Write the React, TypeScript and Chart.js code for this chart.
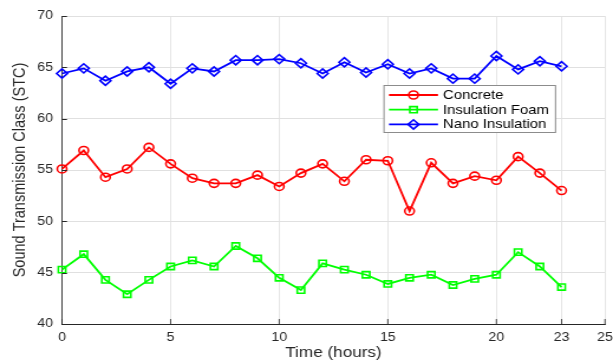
import React, { useEffect, useRef } from 'react';
import { Chart, registerables } from 'chart.js';
import { drawPoint } from 'chart.js/helpers';

Chart.register(...registerables);

const hours = [0, 1, 2, 3, 4, 5, 6, 7, 8, 9, 10, 11, 12, 13, 14, 15, 16, 17, 18, 19, 20, 21, 22, 23];
const concrete = [55.1, 56.9, 54.3, 55.1, 57.2, 55.6, 54.2, 53.7, 53.7, 54.5, 53.4, 54.7, 55.6, 53.9, 56.0, 55.9, 51.0, 55.7, 53.7, 54.4, 54.0, 56.3, 54.7, 53.0];
const insulationFoam = [45.3, 46.8, 44.3, 42.9, 44.3, 45.6, 46.2, 45.6, 47.6, 46.4, 44.5, 43.3, 45.9, 45.3, 44.8, 43.9, 44.5, 44.8, 43.8, 44.4, 44.8, 47.0, 45.6, 43.6];
const nanoInsulation = [64.4, 64.9, 63.7, 64.6, 65.0, 63.4, 64.9, 64.6, 65.7, 65.7, 65.8, 65.4, 64.4, 65.5, 64.5, 65.3, 64.4, 64.9, 63.9, 63.9, 66.1, 64.8, 65.6, 65.1];
const seriesLabels = ['Concrete', 'Insulation Foam', 'Nano Insulation'];
const xTickValues = [0, 5, 10, 15, 20, 23, 25];
const yMin = 40;
const yMax = 70;
const yStep = 5;

// The reference figure is stretched horizontally; render narrower and stretch via CSS.
const OUT_W = 613;
const OUT_H = 362;
const SX = 1.18;
const IN_W = Math.round(OUT_W / SX);
const sx = (px: number) => px * IN_W / OUT_W;

const FONT = "'Liberation Sans', Arial, Helvetica, sans-serif";
const AXIS_COLOR = '#262626';
const GRID_COLOR = '#e0e0e0';

const inwardTicks = {
  id: 'inwardTicks',
  afterDraw(chart: any) {
    const { ctx, chartArea, scales } = chart;
    ctx.save();
    ctx.strokeStyle = AXIS_COLOR;
    ctx.lineWidth = 1 / SX;
    ctx.beginPath();
    scales.x.ticks.forEach((t: any) => {
      const px = scales.x.getPixelForValue(t.value);
      ctx.moveTo(px, chartArea.bottom);
      ctx.lineTo(px, chartArea.bottom - 5);
    });
    ctx.stroke();
    ctx.lineWidth = 1;
    ctx.beginPath();
    scales.y.ticks.forEach((t: any) => {
      const py = Math.round(scales.y.getPixelForValue(t.value)) + 0.5;
      ctx.moveTo(chartArea.left, py);
      ctx.lineTo(chartArea.left + 5 / SX, py);
    });
    ctx.stroke();
    ctx.restore();
  },
};

const boxLegend = {
  id: 'boxLegend',
  afterDraw(chart: any, _args: any, opts: any) {
    const { ctx } = chart;
    const x0 = opts.x, y0 = opts.y, w = opts.width, h = opts.height;
    ctx.save();
    ctx.fillStyle = '#ffffff';
    ctx.fillRect(x0, y0, w, h);
    ctx.strokeStyle = '#8c8c8c';
    ctx.lineWidth = 1;
    ctx.strokeRect(x0, y0 + 0.5, w, h);
    chart.data.datasets.forEach((ds: any, i: number) => {
      const cy = y0 + opts.firstRow + i * opts.rowGap;
      const lx0 = opts.lineStart;
      const lx1 = opts.lineEnd;
      ctx.strokeStyle = ds.borderColor;
      ctx.lineWidth = ds.borderWidth;
      ctx.beginPath();
      ctx.moveTo(lx0, cy);
      ctx.lineTo(lx1, cy);
      ctx.stroke();
      ctx.fillStyle = 'rgba(0,0,0,0)';
      ctx.lineWidth = ds.pointBorderWidth;
      drawPoint(ctx, { pointStyle: ds.pointStyle, radius: ds.pointRadius, borderWidth: ds.pointBorderWidth, rotation: 0 } as any, (lx0 + lx1) / 2, cy);
      ctx.fillStyle = '#000000';
      ctx.font = `12.6px ${FONT}`;
      ctx.textBaseline = 'middle';
      ctx.textAlign = 'left';
      ctx.fillText(ds.label, opts.textStart, cy + 0.5);
    });
    ctx.restore();
  },
};

export default function App() {
  const canvasRef = useRef<HTMLCanvasElement | null>(null);

  useEffect(() => {
    if (!canvasRef.current) return;
    const mk = (label: string, values: number[], color: string, style: string, radius: number) => ({
      label,
      data: hours.map((h, i) => ({ x: h, y: values[i] })),
      borderColor: color,
      backgroundColor: color,
      borderWidth: 1.8,
      pointStyle: style,
      pointRadius: radius,
      pointBorderWidth: 1.6,
      pointBorderColor: color,
      pointBackgroundColor: 'rgba(0,0,0,0)',
      tension: 0,
      clip: false as any,
    });
    const chart = new Chart(canvasRef.current, {
      type: 'line',
      data: {
        datasets: [
          mk(seriesLabels[0], concrete, '#ff0000', 'circle', 4),
          mk(seriesLabels[1], insulationFoam, '#00ff00', 'rect', 4.4),
          mk(seriesLabels[2], nanoInsulation, '#0000ff', 'rectRot', 4.6),
        ],
      },
      options: {
        responsive: false,
        animation: false,
        devicePixelRatio: 1,
        layout: { padding: { left: 0, right: IN_W - sx(605), top: 16, bottom: 0 } },
        plugins: {
          legend: { display: false },
          tooltip: { enabled: false },
          boxLegend: {
            x: sx(384), y: 85, width: sx(171.5), height: 47,
            lineStart: sx(389), lineEnd: sx(438), textStart: sx(443),
            firstRow: 10, rowGap: 14.7,
          },
        } as any,
        scales: {
          x: {
            type: 'linear',
            min: 0,
            max: 25,
            afterBuildTicks: (scale: any) => {
              scale.ticks = xTickValues.map((v) => ({ value: v }));
            },
            afterFit: (scale: any) => {
              scale.height = 38;
              scale.paddingLeft = 0;
              scale.paddingRight = 0;
            },
            ticks: {
              autoSkip: false,
              maxRotation: 0,
              padding: 6.5,
              color: AXIS_COLOR,
              font: { family: FONT, size: 12 },
            },
            grid: { color: GRID_COLOR, drawTicks: false, lineWidth: 1 / SX },
            border: { color: AXIS_COLOR, width: 1 },
            title: {
              display: true,
              text: 'Time (hours)',
              color: AXIS_COLOR,
              font: { family: FONT, size: 14.5 },
              padding: { top: 0, bottom: 0 },
            },
          },
          y: {
            min: yMin,
            max: yMax,
            afterFit: (scale: any) => {
              scale.width = sx(62);
            },
            ticks: {
              stepSize: yStep,
              padding: sx(62) - sx(53),
              color: AXIS_COLOR,
              font: { family: FONT, size: 12 },
            },
            grid: { color: GRID_COLOR, drawTicks: false, lineWidth: 1 },
            border: { color: AXIS_COLOR, width: 1 / SX },
            title: {
              display: true,
              text: 'Sound Transmission Class (STC)',
              color: AXIS_COLOR,
              font: { family: FONT, size: 14.5 },
              padding: { top: sx(20) - 8.7, bottom: 0 },
            },
          },
        },
      },
      plugins: [inwardTicks, boxLegend],
    });
    return () => chart.destroy();
  }, []);

  return (
    <div style={{ position: 'absolute', left: 0, top: 0, width: OUT_W, height: OUT_H, background: '#fff' }}>
      <canvas
        ref={canvasRef}
        width={IN_W}
        height={OUT_H}
        style={{ display: 'block', width: OUT_W + 'px', height: OUT_H + 'px' }}
      />
    </div>
  );
}
